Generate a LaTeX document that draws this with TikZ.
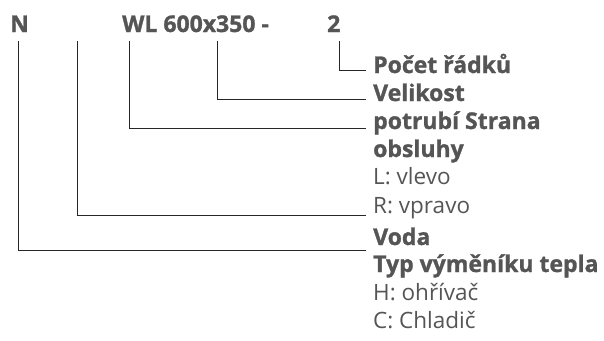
\documentclass[tikz,border=0pt]{standalone}
\usepackage{fontspec}
\setmainfont{Open Sans}[BoldFeatures={FakeBold=1.2}]
\definecolor{txt}{HTML}{555555}
\begin{document}
\begin{tikzpicture}[x=1pt,y=1pt,
  bl/.style={inner sep=0pt,anchor=base west,text=txt,font=\fontsize{23}{26}\selectfont\bfseries},
  rl/.style={inner sep=0pt,anchor=base west,text=txt,font=\fontsize{22.5}{26}\selectfont},
  conn/.style={draw=black!85,line width=0.9pt}]
\useasboundingbox (0,0) rectangle (604,-340);
% top code
\node[bl] (n) at (10,-32) {N};
\node[bl] (wl) at (122,-32) {WL 600x350 -};
\node[bl] (two) at (327,-32) {2};
% right labels
\node[bl] (poc) at (373,-73) {Počet řádků};
\node[bl] (vel) at (373,-101) {Velikost};
\node[bl] (pot) at (373,-129) {potrubí Strana};
\node[bl] (obs) at (373,-157) {obsluhy};
\node[rl] (ll) at (373,-184) {L: vlevo};
\node[rl] (rr) at (373,-213) {R: vpravo};
\node[bl] (voda) at (373,-245) {Voda};
\node[bl] (typ) at (373,-272) {Typ výměníku tepla};
\node[rl] (hh) at (373,-300) {H: ohřívač};
\node[rl] (cc) at (373,-328) {C: Chladič};
% connector start points
\coordinate (s1) at (18,-41);
\coordinate (s2) at (77,-41);
\coordinate (s3) at (129,-41);
\coordinate (s4) at (217,-41);
\coordinate (s5) at (339,-41);
% connector ends
\coordinate (e5) at (366,-70);
\coordinate (e4) at (366,-99);
\coordinate (e3) at (366,-128);
\coordinate (e2) at (366,-215);
\coordinate (e1) at (366,-250);
\draw[conn] (s5) |- (e5);
\draw[conn] (s4) |- (e4);
\draw[conn] (s3) |- (e3);
\draw[conn] (s2) |- (e2);
\draw[conn] (s1) |- (e1);
\end{tikzpicture}
\end{document}
